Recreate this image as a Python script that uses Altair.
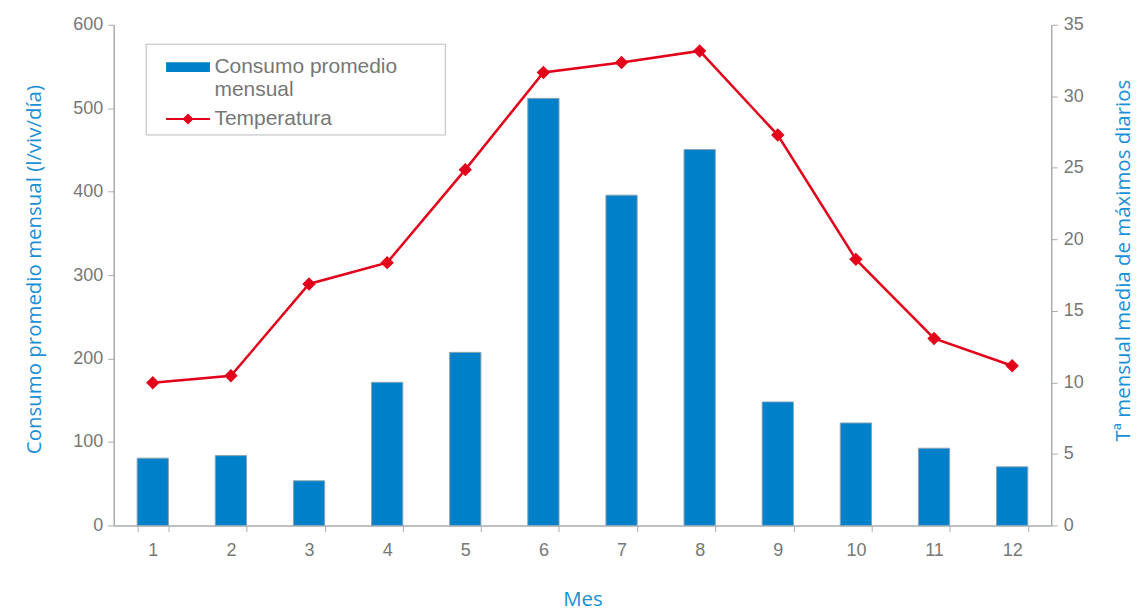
import altair as alt
import pandas as pd

meses = [1, 2, 3, 4, 5, 6, 7, 8, 9, 10, 11, 12]
consumo = [80.6, 83.7, 53.5, 171.5, 207.4, 511.8, 395.8, 450.5, 148.0, 122.8, 92.5, 70.2]
temperatura = [9.97, 10.46, 16.88, 18.37, 24.87, 31.66, 32.36, 33.17, 27.29, 18.6, 13.07, 11.16]
series = ["Consumo promedio mensual", "Temperatura"]
legend_lines = ["Consumo promedio", "mensual" + "\u00a0" * 25 + "\u200b"]

BLUE = "#0080c8"
RED = "#e2001a"
TITLE_BLUE = "#1a8fd6"
GRAY = "#777777"
AXIS_GRAY = "#a8acb0"

df_c = pd.DataFrame({"mes": meses, "valor": consumo})
df_t = pd.DataFrame({"mes": meses, "valor": temperatura})
df_leg = pd.DataFrame({"serie": series})

x_enc = alt.X(
    "mes:O",
    scale=alt.Scale(paddingInner=0.6, paddingOuter=0.3),
    axis=alt.Axis(
        title="Mes", labelAngle=0, tickBand="extent", titlePadding=30,
        labelPadding=10,
    ),
)

bars = alt.Chart(df_c).mark_bar(color=BLUE, stroke="#8aa4b8", strokeWidth=1).encode(
    x=x_enc,
    y=alt.Y(
        "valor:Q",
        scale=alt.Scale(domain=[0, 600]),
        axis=alt.Axis(
            title="Consumo promedio mensual (l/viv/día)", values=[0, 100, 200, 300, 400, 500, 600],
            titlePadding=28, orient="left", labelPadding=5, titleY=245,
        ),
    ),
)

line = alt.Chart(df_t).mark_line(
    color=RED, strokeWidth=2.5,
    point=alt.OverlayMarkDef(shape="diamond", size=180, filled=True, color=RED),
).encode(
    x=alt.X("mes:O"),
    y=alt.Y(
        "valor:Q",
        scale=alt.Scale(domain=[0, 35]),
        axis=alt.Axis(
            title="Tª mensual media de máximos diarios", values=[0, 5, 10, 15, 20, 25, 30, 35],
            orient="right", titleAngle=270, titlePadding=50, labelPadding=6, titleY=236,
        ),
    ),
)

label_expr = "datum.label == '%s' ? ['%s', '%s'] : datum.label" % (
    series[0], legend_lines[0], legend_lines[1]
)

legend_layer = alt.Chart(df_leg).mark_point(filled=True, opacity=1).encode(
    color=alt.Color(
        "serie:N",
        scale=alt.Scale(domain=series, range=[BLUE, RED]),
        legend=alt.Legend(
            title=" ", titleFontSize=1, titlePadding=7,
            orient="none", legendX=32, legendY=19,
            fillColor="white", strokeColor="#b8bcc0", padding=5,
            symbolSize=121, symbolStrokeWidth=0, rowPadding=7,
            symbolOffset=27, labelOffset=16,
            labelFontSize=21, labelFont="Liberation Sans", labelColor=GRAY,
            labelLimit=400,
            labelExpr=label_expr,
        ),
    ),
    shape=alt.Shape(
        "serie:N",
        scale=alt.Scale(
            domain=series,
            range=[
                "M-4,-0.9H4V0.9H-4Z",
                "M-4,-0.17H4V0.17H-4ZM0,-1L1,0L0,1L-1,0Z",
            ],
        ),
        legend=alt.Legend(title=" ", orient="none", legendX=32, legendY=19),
    ),
).transform_filter("false")

chart = alt.layer(bars, line, legend_layer).resolve_scale(y="independent").properties(
    width=940, height=502,
    padding={"left": 16, "top": 7, "right": 0, "bottom": 0},
).configure_view(
    fill="#e9f0f8", stroke=None,
).configure_axis(
    labelFont="Liberation Sans", labelFontSize=18, labelColor=GRAY,
    titleFont="Open Sans", titleFontSize=20.5, titleColor=TITLE_BLUE, titleFontWeight="normal",
    domainColor=AXIS_GRAY, tickColor=AXIS_GRAY, tickSize=6, grid=False, domainWidth=1.5,
)

chart.save("out.html", embed_options={"renderer": "svg", "actions": False})
